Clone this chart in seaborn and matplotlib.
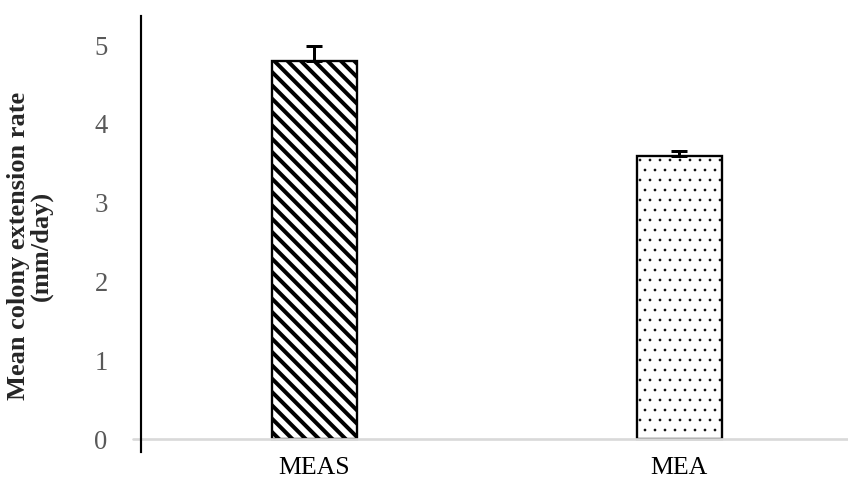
import numpy as np
import pandas as pd
import matplotlib
matplotlib.use("Agg")
import matplotlib.pyplot as plt
import seaborn as sns

# data
media = ["MEAS", "MEA"]
mean_rate = [4.80, 3.59]
err_up = [0.19, 0.07]
hatches = ["\\\\\\", ".."]
hatch_lw = [2.4, 0.4]

df = pd.DataFrame({"medium": media, "rate": mean_rate})

sns.set_style("white")
plt.rcParams["font.family"] = ["Liberation Serif", "DejaVu Serif"]

dpi = 120
fig = plt.figure(figsize=(848 / dpi, 482 / dpi), dpi=dpi)
ax = fig.add_axes([141 / 848, 30 / 482, 707 / 848, 436 / 482])

sns.barplot(data=df, x="medium", y="rate", ax=ax, width=0.233, color="white",
            edgecolor="black", linewidth=1.4, errorbar=None)
for bar, h, lw in zip(ax.patches, hatches, hatch_lw):
    bar.set_hatch(h)
    bar.set_facecolor("white")
    bar.set_edgecolor("black")
    if hasattr(bar, "set_hatch_linewidth"):
        bar.set_hatch_linewidth(lw)
    else:
        bar._hatch_linewidth = lw

# plus-only error bars
ax.errorbar(np.arange(len(media)), mean_rate, yerr=[np.zeros(len(media)), err_up],
            fmt="none", ecolor="black", elinewidth=1.8, capsize=5, capthick=1.8, zorder=5)

ax.set_xlim(-0.475, 1.462)
ax.set_ylim(-0.165, 5.37)
ax.set_yticks(range(0, 6))

# light grey zero line like the reference
ax.plot([-0.0113, 1], [0.165 / 5.535, 0.165 / 5.535], transform=ax.transAxes,
        color="#d9d9d9", lw=1.6, clip_on=False, zorder=1)

for s in ["top", "right", "bottom"]:
    ax.spines[s].set_visible(False)
ax.spines["left"].set_color("black")
ax.spines["left"].set_linewidth(1.3)

ax.tick_params(axis="y", length=0, pad=20, labelsize=16, labelcolor="#595959")
ax.tick_params(axis="x", length=0, pad=3, labelsize=15.5, labelcolor="black")

ax.set_xlabel("")
ax.set_ylabel("Mean colony extension rate\n(mm/day)", fontsize=15.8, fontweight="bold",
              linespacing=0.95)
ax.yaxis.label.set_va("center")
ax.yaxis.set_label_coords(-0.157, 0.472)

fig.savefig("out.png", dpi=dpi)
